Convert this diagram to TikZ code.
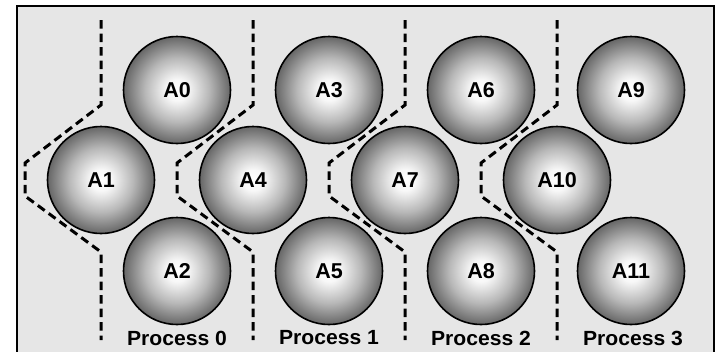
\documentclass[tikz,border=0pt]{standalone}
\usepackage{fontspec}
\setmainfont{Liberation Sans}
\pgfdeclareradialshading{ballgray}{\pgfpoint{0bp}{0bp}}{%
  color(0bp)=(white);
  color(5bp)=(white!97!black);
  color(15bp)=(black!28);
  color(25bp)=(black!60);
  color(50bp)=(black!60)}
\tikzset{
  atom/.style={circle, minimum size=107bp, inner sep=0pt, draw=black, line width=1.6bp,
    shading=ballgray, font=\fontsize{21.5bp}{24bp}\selectfont\bfseries},
  divider/.style={line width=3bp, dash pattern=on 8.5bp off 5bp},
  proclabel/.style={font=\fontsize{20.5bp}{24bp}\selectfont\bfseries, xscale=1.03, inner sep=0pt},
}
\begin{document}
\begin{tikzpicture}[x=1bp,y=-1bp]
\useasboundingbox (0,0) rectangle (717,351);
\fill[white] (0,0) rectangle (717,351);
\draw[fill={rgb,255:red,230;green,230;blue,230}, line width=2bp] (17,360) -- (17,6) -- (714,6) -- (714,360);
% atoms
\node[atom] (A0) at (177,90) {A0};
\node[atom] (A1) at (101,180) {A1};
\node[atom] (A2) at (177,271) {A2};
\node[atom] (A3) at (329,90) {A3};
\node[atom] (A4) at (253,180) {A4};
\node[atom] (A5) at (329,271) {A5};
\node[atom] (A6) at (481,90) {A6};
\node[atom] (A7) at (405,180) {A7};
\node[atom] (A8) at (481,271) {A8};
\node[atom] (A9) at (631,90) {A9};
\node[atom] (A10) at (557,180) {A10};
\node[atom] (A11) at (631,271) {A11};
% dividers
\foreach \k in {0,1,2,3}{
  \pgfmathsetmacro{\xa}{101+152*\k}
  \pgfmathsetmacro{\xb}{\xa-76}
  \draw[divider] (\xa,20) -- (\xa,105) -- (\xb,163) -- (\xb,196) -- (\xa,252) -- (\xa,340);
}
% labels
\node[proclabel] (P0) at (177,338) {Process 0};
\node[proclabel] (P1) at (329,338) {Process 1};
\node[proclabel] (P2) at (481,338) {Process 2};
\node[proclabel] (P3) at (633,338) {Process 3};
\end{tikzpicture}
\end{document}
